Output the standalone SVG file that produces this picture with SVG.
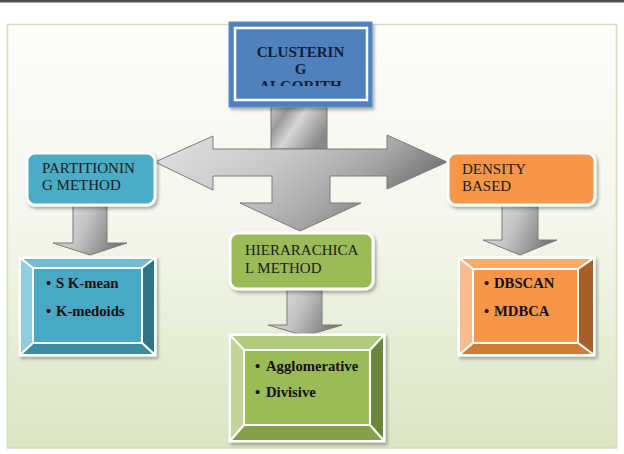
<svg xmlns="http://www.w3.org/2000/svg" width="624" height="454" viewBox="0 0 624 454">
<defs>
<style>
.lbl{font-family:"Liberation Serif","Times New Roman",serif;font-size:15px;fill:#1a1a1a}
.lst{font-family:"Liberation Serif","Times New Roman",serif;font-size:14.7px;font-weight:bold;fill:#111}
.ttl{font-family:"Liberation Serif","Times New Roman",serif;font-size:15px;font-weight:bold;fill:#0f1d36}
.rb{stroke:#fff;stroke-width:3}
.bv{stroke:#fff;stroke-width:2;stroke-linejoin:round}
.arr{stroke:#7a7a7a;stroke-width:1}
</style>
<linearGradient id="bg" x1="0" y1="0" x2="0" y2="1">
<stop offset="0" stop-color="#fdfdfb"/>
<stop offset="0.45" stop-color="#f4f7ec"/>
<stop offset="1" stop-color="#dbe6c5"/>
</linearGradient>
<linearGradient id="ga" x1="0" y1="0" x2="1" y2="0.3">
<stop offset="0" stop-color="#e4e4e4"/>
<stop offset="0.5" stop-color="#c4c4c4"/>
<stop offset="1" stop-color="#7c7c7c"/>
</linearGradient>
<linearGradient id="gs" x1="0" y1="0" x2="1" y2="0.6">
<stop offset="0" stop-color="#d8d8d8"/>
<stop offset="0.3" stop-color="#9a9a9a"/>
<stop offset="0.55" stop-color="#d6d6d6"/>
<stop offset="1" stop-color="#8a8a8a"/>
</linearGradient>
<linearGradient id="gbig" x1="0" y1="0" x2="1" y2="0.4">
<stop offset="0" stop-color="#e2e2e2"/>
<stop offset="0.45" stop-color="#c8c8c8"/>
<stop offset="0.75" stop-color="#a6a6a6"/>
<stop offset="1" stop-color="#6e6e6e"/>
</linearGradient>
<filter id="sh" x="-10%" y="-10%" width="130%" height="140%">
<feDropShadow dx="2" dy="2.5" stdDeviation="1.5" flood-color="#000" flood-opacity="0.3"/>
</filter>
<clipPath id="tclip"><rect x="235" y="28" width="132" height="58"/></clipPath>
</defs>

<rect x="0" y="0" width="624" height="454" fill="#fff"/>
<rect x="0" y="0" width="624" height="2.5" fill="#4d4d4d"/>
<rect x="7.5" y="24.5" width="609" height="423.5" fill="url(#bg)" stroke="#d9ddbb" stroke-width="1.5"/>

<g id="connectors">
<rect x="271" y="100" width="56" height="49" fill="url(#gs)" class="arr"/>
<polygon class="arr" fill="url(#gbig)" points="213,149 213,136 155,162 213,190 213,176 272,176 272,203 240,203 300,231 361,203 330,203 330,176 387,176 387,189 447,162 387,135 387,149"/>
<polygon class="arr" fill="url(#ga)" points="73,205 107,205 107,243 127,243 90,255 53,243 73,243"/>
<polygon class="arr" fill="url(#ga)" points="287,290 322,290 322,325 342,325 305,336 268,325 287,325"/>
<polygon class="arr" fill="url(#ga)" points="502,205 538,205 538,240 557,240 520,255 483,240 502,240"/>
</g>

<g id="clustering">
<rect x="229" y="22" width="143" height="85" fill="#4f81bd" stroke="#5a8cd0" stroke-width="1" filter="url(#sh)"/>
<rect x="235" y="28" width="132" height="72" fill="none" stroke="#fff" stroke-width="2.5"/>
<g clip-path="url(#tclip)">
<text class="ttl" x="300.5" y="57" text-anchor="middle">CLUSTERIN</text>
<text class="ttl" x="300.5" y="74" text-anchor="middle">G</text>
<text class="ttl" x="300.5" y="91" text-anchor="middle">ALGORITH</text>
</g>
</g>

<g id="partitioning">
<rect x="27" y="153" width="128" height="52" rx="8" fill="#4bacc6" class="rb" filter="url(#sh)"/>
<text class="lbl" x="42" y="173">PARTITIONIN</text>
<text class="lbl" x="42" y="190">G METHOD</text>
</g>

<g id="density">
<rect x="448" y="153" width="147" height="52" rx="8" fill="#f79646" class="rb" filter="url(#sh)"/>
<text class="lbl" x="462" y="174">DENSITY</text>
<text class="lbl" x="462" y="191">BASED</text>
</g>

<g id="hierarchical">
<rect x="230" y="233" width="143" height="56" rx="8" fill="#9bbb59" class="rb" filter="url(#sh)"/>
<text class="lbl" x="245" y="255">HIERARACHICA</text>
<text class="lbl" x="245" y="273">L METHOD</text>
</g>

<g id="kmeans">
<g filter="url(#sh)">
<rect x="20" y="258" width="135" height="97" fill="#4bacc6" stroke="#fff" stroke-width="3"/>
<polygon class="bv" fill="#6fbdd3" points="20,258 155,258 142,268 33,268"/>
<polygon class="bv" fill="#8fcde0" points="20,258 33,268 33,343 20,355"/>
<polygon class="bv" fill="#2f7489" points="155,258 155,355 142,343 142,268"/>
<polygon class="bv" fill="#3a8ba3" points="20,355 33,343 142,343 155,355"/>
<rect class="bv" x="33" y="268" width="109" height="75" fill="#4aa8c4"/>
</g>
<text class="lst" x="46" y="288">•<tspan x="56">S K-mean</tspan></text>
<text class="lst" x="46" y="316">•<tspan x="56">K-medoids</tspan></text>
</g>

<g id="agglomerative">
<g filter="url(#sh)">
<rect x="230" y="335" width="154" height="106" fill="#9bbb59" stroke="#fff" stroke-width="3"/>
<polygon class="bv" fill="#b0ca7c" points="230,335 384,335 370,350 244,350"/>
<polygon class="bv" fill="#c0d597" points="230,335 244,350 244,425 230,441"/>
<polygon class="bv" fill="#6b863a" points="384,335 384,441 370,425 370,350"/>
<polygon class="bv" fill="#84a04a" points="230,441 244,425 370,425 384,441"/>
<rect class="bv" x="244" y="350" width="126" height="75" fill="#9bbb59"/>
</g>
<text class="lst" x="255" y="371">•<tspan x="266">Agglomerative</tspan></text>
<text class="lst" x="255" y="397">•<tspan x="266">Divisive</tspan></text>
</g>

<g id="dbscan">
<g filter="url(#sh)">
<rect x="459" y="258" width="135" height="97" fill="#f79646" stroke="#fff" stroke-width="3"/>
<polygon class="bv" fill="#f9aa6c" points="459,258 594,258 578,269 473,269"/>
<polygon class="bv" fill="#fbbb8c" points="459,258 473,269 473,343 459,355"/>
<polygon class="bv" fill="#a8602a" points="594,258 594,355 578,343 578,269"/>
<polygon class="bv" fill="#cf7b37" points="459,355 473,343 578,343 594,355"/>
<rect class="bv" x="473" y="269" width="105" height="74" fill="#f79646"/>
</g>
<text class="lst" x="484" y="288">•<tspan x="494">DBSCAN</tspan></text>
<text class="lst" x="484" y="316">•<tspan x="494">MDBCA</tspan></text>
</g>
</svg>
